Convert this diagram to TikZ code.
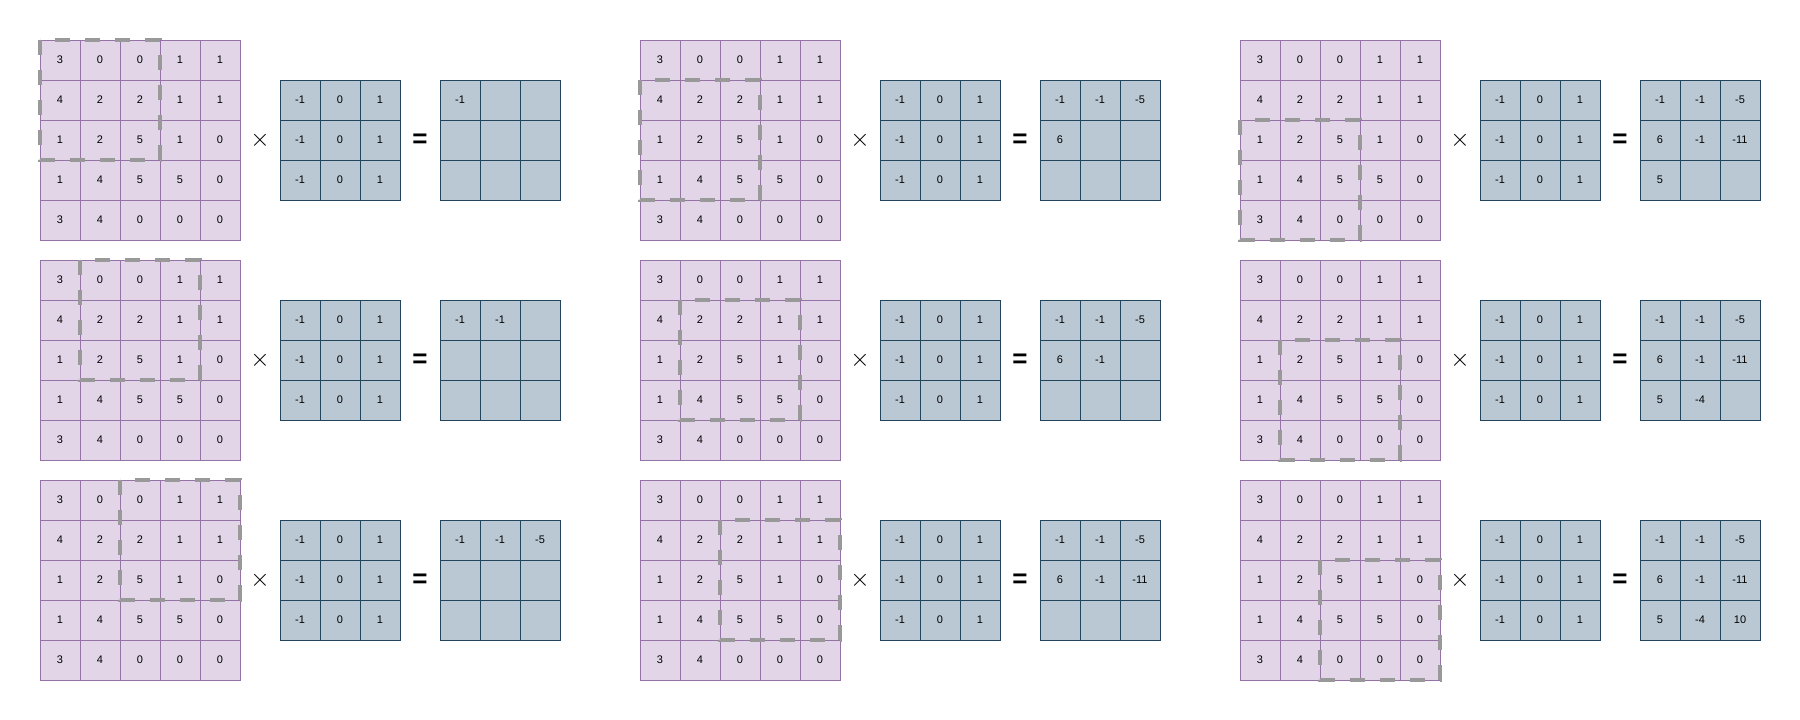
\documentclass[tikz,border=0pt]{standalone}
\usepackage{fontspec}
\setmainfont{Liberation Sans}
\definecolor{bigfill}{HTML}{E1D5E7}
\definecolor{bigdraw}{HTML}{9673A6}
\definecolor{kerfill}{HTML}{BAC8D3}
\definecolor{kerdraw}{HTML}{23445D}
\definecolor{wingray}{HTML}{999999}
\begin{document}
\begin{tikzpicture}[x=1pt,y=-1pt,
  cellbase/.style={line width=1pt, minimum size=40pt, inner sep=0pt, outer sep=0pt,
                   font=\fontsize{11}{13}\selectfont, text=black},
  bigcell/.style={cellbase, draw=bigdraw, fill=bigfill},
  kercell/.style={cellbase, draw=kerdraw, fill=kerfill},
  window/.style={draw=wingray, line width=4.5pt, dash pattern=on 15pt off 15pt},
  timessign/.style={inner sep=0pt, font=\fontsize{27}{29}\selectfont},
  equalsign/.style={inner sep=0pt, font=\fontsize{26}{28}\selectfont\bfseries}]
\useasboundingbox (0,0) rectangle (1800,720);
\foreach \p in {0,1,2}{
  \foreach \r in {0,1,2}{
    \pgfmathsetmacro\X{40+600*\p}
    \pgfmathsetmacro\Y{40+220*\r}
    \pgfmathtruncatemacro\lim{\p*3+\r}
    % big input grid
    \foreach \rowvals [count=\i from 0] in {{3,0,0,1,1},{4,2,2,1,1},{1,2,5,1,0},{1,4,5,5,0},{3,4,0,0,0}}{
      \foreach \v [count=\j from 0] in \rowvals{
        \node[bigcell] (big-\p-\r-\i-\j) at (\X+20+40*\j, \Y+20+40*\i) {\v};
      }
    }
    % operator signs
    \node[timessign] (times-\p-\r) at (\X+220, \Y+100) {$\times$};
    \node[equalsign] (eq-\p-\r) at (\X+380, \Y+101) {=};
    % kernel
    \foreach \rowvals [count=\i from 0] in {{-1,0,1},{-1,0,1},{-1,0,1}}{
      \foreach \v [count=\j from 0] in \rowvals{
        \node[kercell] (ker-\p-\r-\i-\j) at (\X+260+40*\j, \Y+60+40*\i) {\v};
      }
    }
    % result
    \foreach \rowvals [count=\i from 0] in {{-1,-1,-5},{6,-1,-11},{5,-4,10}}{
      \foreach \v [count=\j from 0] in \rowvals{
        \pgfmathtruncatemacro\k{\i*3+\j}
        \ifnum\k>\lim\relax \def\txt{}\else \def\txt{\v}\fi
        \node[kercell] (res-\p-\r-\i-\j) at (\X+420+40*\j, \Y+60+40*\i) {\txt};
      }
    }
    % sliding window
    \draw[window] (\X+40*\r, \Y+40*\p) rectangle +(120,120);
  }
}
\end{tikzpicture}
\end{document}
